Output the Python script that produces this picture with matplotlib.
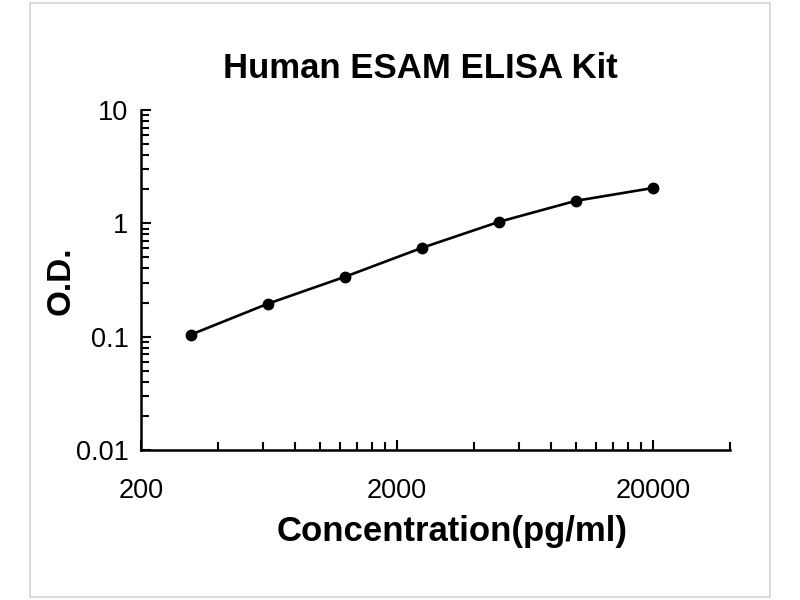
import numpy as np
import matplotlib
matplotlib.use('Agg')
import matplotlib.pyplot as plt
from matplotlib.ticker import FixedLocator, FixedFormatter, NullFormatter
from matplotlib.patches import Rectangle

# standard curve
conc = [312.5, 625, 1250, 2500, 5000, 10000, 20000]   # pg/ml
od = [0.104, 0.195, 0.337, 0.607, 1.03, 1.58, 2.05]

xMajor = [200, 2000, 20000]
xMajorLabels = ['200', '2000', '20000']
yMajor = [0.01, 0.1, 1, 10]
yMajorLabels = ['0.01', '0.1', '1', '10']

plt.rcParams['font.family'] = ['Liberation Sans', 'DejaVu Sans']

fig = plt.figure(figsize=(8, 6), dpi=100)
# thin grey frame round the whole picture
fig.patches.append(Rectangle((30/800, 3/600), 740/800, 594/600, transform=fig.transFigure,
                             fill=False, edgecolor='#d4d4d4', linewidth=1.2))

ax = fig.add_axes([141/800, 1-450/600, (730-141)/800, (450-110)/600])
ax.plot(conc, od, color='black', linewidth=1.9, marker='o', markersize=7.5, zorder=3)

ax.set_xscale('log')
ax.set_yscale('log')
ax.set_xlim(200, 40000)
ax.set_ylim(0.01, 10)

# x ticks: excel style minor ticks every step of 200 / 2000 / 20000
xMinor = [200*k for k in range(2, 10)] + [2000*k for k in range(2, 10)] + [40000]
ax.xaxis.set_major_locator(FixedLocator(xMajor))
ax.xaxis.set_major_formatter(FixedFormatter(xMajorLabels))
ax.xaxis.set_minor_locator(FixedLocator(xMinor))
ax.xaxis.set_minor_formatter(NullFormatter())

yMinor = [d*k for d in [0.01, 0.1, 1] for k in range(2, 10)]
ax.yaxis.set_major_locator(FixedLocator(yMajor))
ax.yaxis.set_major_formatter(FixedFormatter(yMajorLabels))
ax.yaxis.set_minor_locator(FixedLocator(yMinor))
ax.yaxis.set_minor_formatter(NullFormatter())

for s in ['top', 'right']:
    ax.spines[s].set_visible(False)
for s in ['left', 'bottom']:
    ax.spines[s].set_linewidth(1.8)

ax.tick_params(axis='both', which='both', direction='in', width=1.5, labelsize=19.5, colors='black')
ax.tick_params(axis='both', which='major', length=7)
ax.tick_params(axis='both', which='minor', length=6)
ax.tick_params(axis='x', which='major', pad=20)
ax.tick_params(axis='y', which='major', pad=9)

ax.set_title('Human ESAM ELISA Kit', fontsize=25, fontweight='bold', pad=23, x=0.474)
ax.set_xlabel('Concentration(pg/ml)', fontsize=25, fontweight='bold')
ax.set_ylabel('O.D.', fontsize=24, fontweight='bold')
ax.xaxis.set_label_coords(0.528, -0.19)
ax.yaxis.set_label_coords(-0.11, 0.497)

plt.savefig('out.png', dpi=100)
